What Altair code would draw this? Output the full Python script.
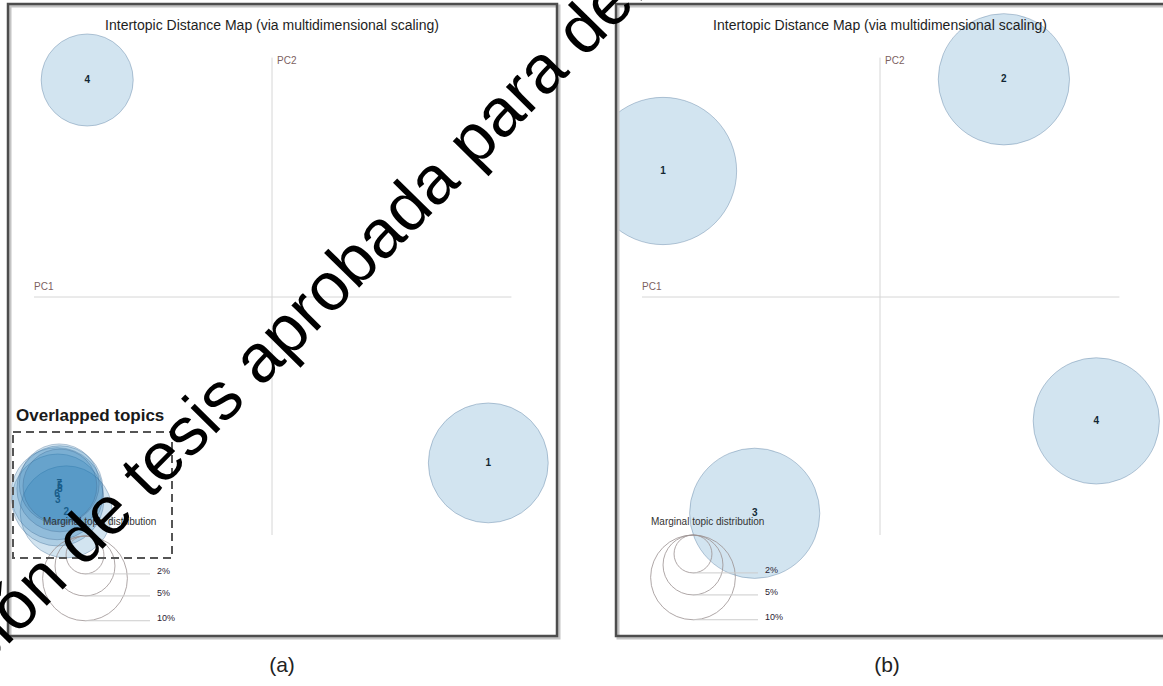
import altair as alt
import pandas as pd

# ---- topic data: MDS coordinates (PC1, PC2) and marginal topic share (%) ----
A_TOPIC = ["1", "4", "2", "3", "6", "8", "7", "5"]
A_PC1 = [0.309, -0.264, -0.294, -0.306, -0.307, -0.303, -0.304, -0.303]
A_PC2 = [-0.237, 0.310, -0.307, -0.290, -0.281, -0.274, -0.267, -0.270]
A_SHARE = [20.0, 11.8, 11.8, 11.8, 11.8, 10.3, 8.9, 7.6]

B_TOPIC = ["1", "2", "3", "4"]
B_PC1 = [-0.310, 0.177, -0.179, 0.309]
B_PC2 = [0.180, 0.311, -0.309, -0.177]
B_SHARE = [30.2, 24.0, 23.6, 22.2]

LEGEND_SHARE = [2, 5, 10]
LEGEND_LABEL = ["2%", "5%", "10%"]

AXIS_LO = [-0.34]
AXIS_HI = [0.342]

TITLE = "Intertopic Distance Map (via multidimensional scaling)"
LEGEND_TITLE = "Marginal topic distribution"
OVERLAP_NOTE = "Overlapped topics"
CAPTIONS = ["(a)", "(b)"]
WATERMARK = "Versión de tesis aprobada para defensa"

# ---- layout ----
W, H = 1163, 686
FONT = "Liberation Sans"
PX_PER_UNIT = 700
CY = 297
DOMAIN = [-0.4, 0.4]
HALF = 0.4 * PX_PER_UNIT
R_FULL = 134  # circle radius (px) for a 100% share

SIZE = alt.Scale(type="linear", domain=[0, 100], range=[0, 4 * R_FULL ** 2], zero=True)
YSCALE = alt.Scale(domain=DOMAIN, range=[CY + HALF, CY - HALF], nice=False, zero=False)


def xscale(cx):
    return alt.Scale(domain=DOMAIN, range=[cx - HALF, cx + HALF], nice=False, zero=False)


def one_row(**kw):
    return pd.DataFrame({k: [v] for k, v in kw.items()})


def panel(left, topics, pc1, pc2, share, legend_top):
    cx = left + 264
    xs = xscale(cx)
    df = pd.DataFrame({"topic": topics, "pc1": pc1, "pc2": pc2, "share": share})
    X = alt.X("pc1:Q", scale=xs, axis=None)
    Y = alt.Y("pc2:Q", scale=YSCALE, axis=None)

    ax = pd.DataFrame({"lo": AXIS_LO, "hi": AXIS_HI, "zero": [0.0]})
    vline = alt.Chart(ax).mark_rule(color="#d6d6d6", strokeWidth=1).encode(
        x=alt.X("zero:Q", scale=xs, axis=None),
        y=alt.Y("hi:Q", scale=YSCALE, axis=None),
        y2="lo:Q",
    )
    hline = alt.Chart(ax).mark_rule(color="#d6d6d6", strokeWidth=1).encode(
        y=alt.Y("zero:Q", scale=YSCALE, axis=None),
        x=alt.X("lo:Q", scale=xs, axis=None),
        x2="hi:Q",
    )
    pc1_name = alt.Chart(ax).mark_text(
        text="PC1", font=FONT, fontSize=10, color="#7d5f5f", align="left", baseline="middle"
    ).encode(x=alt.X("lo:Q", scale=xs, axis=None), y=alt.value(287))
    pc2_name = alt.Chart(ax).mark_text(
        text="PC2", font=FONT, fontSize=10, color="#7d5f5f", align="left", baseline="middle", dx=5
    ).encode(x=alt.X("zero:Q", scale=xs, axis=None), y=alt.value(61))

    labels = alt.Chart(df).mark_text(
        font=FONT, fontSize=10, fontWeight="bold", color="#111111"
    ).encode(x=X, y=Y, text="topic:N")
    circles = alt.Chart(df).mark_circle(
        color="#1f77b4", opacity=1, fillOpacity=0.2,
        stroke="#3f6690", strokeOpacity=0.35, strokeWidth=1,
    ).encode(x=X, y=Y, size=alt.Size("share:Q", scale=SIZE, legend=None))

    title = alt.Chart(one_row(t=TITLE)).mark_text(
        font=FONT, fontSize=14, color="#1e1e1e", align="center", baseline="middle"
    ).encode(x=alt.value(cx), y=alt.value(26), text="t:N")

    leg_df = pd.DataFrame({"share": LEGEND_SHARE, "label": LEGEND_LABEL})
    yc = alt.Y("share:Q", axis=None,
               scale=alt.Scale(type="sqrt", domain=[0, 100], range=[legend_top, legend_top + R_FULL], zero=True))
    yb = alt.Y("share:Q", axis=None,
               scale=alt.Scale(type="sqrt", domain=[0, 100], range=[legend_top, legend_top + 2 * R_FULL], zero=True))
    lx = left + 77
    rings = alt.Chart(leg_df).mark_point(
        shape="circle", filled=False, opacity=1, stroke="#9a9090", strokeWidth=0.8
    ).encode(x=alt.value(lx), y=yc, size=alt.Size("share:Q", scale=SIZE, legend=None))
    ticks = alt.Chart(leg_df).mark_rule(color="#cccccc", strokeWidth=1).encode(
        x=alt.value(lx), x2=alt.value(lx + 65), y=yb
    )
    tick_text = alt.Chart(leg_df).mark_text(
        font=FONT, fontSize=9, color="#2a2233", align="left", baseline="middle", dy=-3
    ).encode(x=alt.value(left + 149), y=yb, text="label:N")
    leg_title = alt.Chart(one_row(t=LEGEND_TITLE)).mark_text(
        font=FONT, fontSize=10, color="#333333", align="left", baseline="middle"
    ).encode(x=alt.value(left + 35), y=alt.value(522), text="t:N")

    return [vline, hline, pc1_name, pc2_name, labels, circles, title,
            leg_title, rings, ticks, tick_text]


def frame(left):
    box = one_row(k=0)
    shadow = alt.Chart(box).mark_rect(filled=False, stroke="#c4c4c4", strokeWidth=3).encode(
        x=alt.value(left + 2), x2=alt.value(left + 551), y=alt.value(6), y2=alt.value(638)
    )
    border = alt.Chart(box).mark_rect(filled=False, stroke="#4d4d4d", strokeWidth=2.5).encode(
        x=alt.value(left), x2=alt.value(left + 549), y=alt.value(4), y2=alt.value(636)
    )
    return [shadow, border]


LEFT_A, LEFT_B = 8, 616

layers = []
layers += panel(LEFT_A, A_TOPIC, A_PC1, A_PC2, A_SHARE, 536)
layers += panel(LEFT_B, B_TOPIC, B_PC1, B_PC2, B_SHARE, 535)

# white gutter between the two panels (hides circle overflow)
layers.append(
    alt.Chart(one_row(k=0)).mark_rect(fill="white").encode(
        x=alt.value(559), x2=alt.value(615), y=alt.value(0), y2=alt.value(H)
    )
)
layers += frame(LEFT_A) + frame(LEFT_B)

# highlight of the overlapped cluster in panel (a)
layers.append(
    alt.Chart(one_row(k=0)).mark_rect(
        filled=False, stroke="#555555", strokeWidth=2, strokeDash=[8, 5]
    ).encode(x=alt.value(13), x2=alt.value(172), y=alt.value(432), y2=alt.value(558))
)
layers.append(
    alt.Chart(one_row(t=OVERLAP_NOTE)).mark_text(
        font=FONT, fontSize=17, fontWeight="bold", color="#1a1a1a", align="left", baseline="middle"
    ).encode(x=alt.value(16), y=alt.value(416), text="t:N")
)

# sub-figure captions
cap = pd.DataFrame({"t": CAPTIONS, "pos": [0, 1]})
layers.append(
    alt.Chart(cap).mark_text(font=FONT, fontSize=21, color="#222222", align="center", baseline="middle").encode(
        x=alt.X("pos:Q", axis=None, scale=alt.Scale(domain=[0, 1], range=[282, 887], nice=False, zero=False)),
        y=alt.value(666),
        text="t:N",
    )
)

# diagonal watermark
layers.append(
    alt.Chart(one_row(t=WATERMARK)).mark_text(
        font=FONT, fontSize=68, color="#000000", angle=314.5,
        align="center", baseline="middle", clip=True,
    ).encode(x=alt.value(318), y=alt.value(301), text="t:N")
)

chart = (
    alt.layer(*layers)
    .resolve_scale(x="independent", y="independent")
    .properties(width=W, height=H, padding=0, autosize=alt.AutoSizeParams(type="none"),
                background="white")
    .configure_view(stroke=None)
)

chart.save("out.html", embed_options={"renderer": "svg", "actions": False})
